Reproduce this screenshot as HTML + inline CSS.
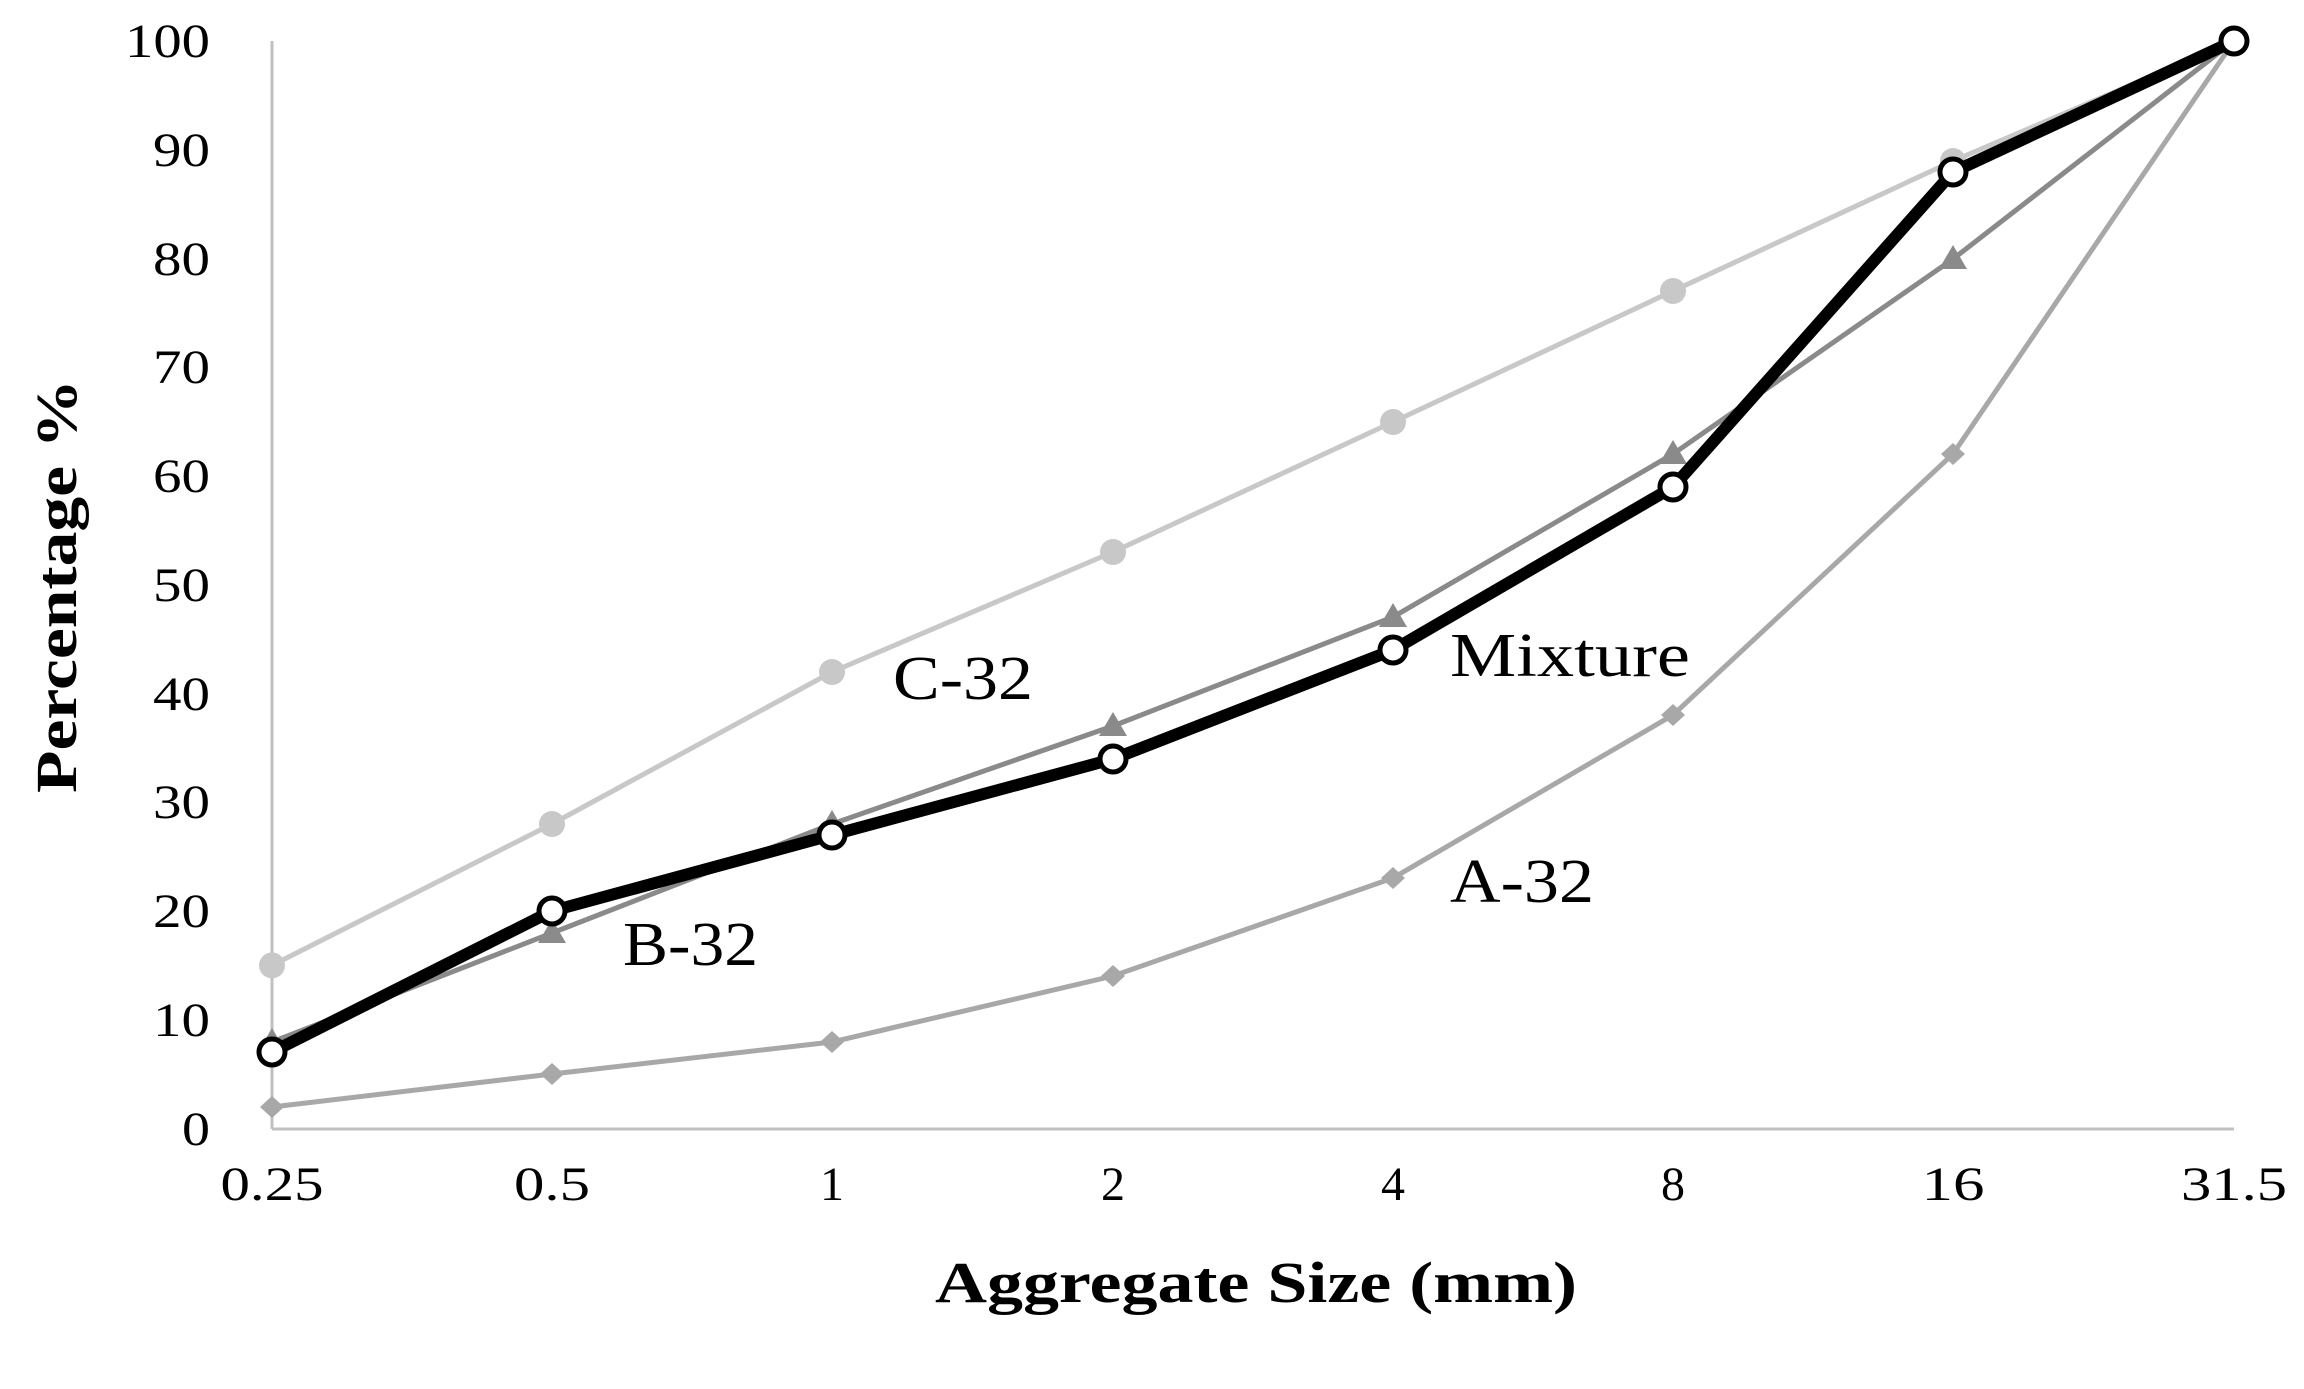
<!DOCTYPE html>
<html><head><style>body{margin:0;background:#fff}svg{display:block}</style></head>
<body>
<svg width="2304" height="1389" viewBox="0 0 2304 1389" xmlns="http://www.w3.org/2000/svg" font-family="Liberation Serif, serif">
<line x1="272" y1="41" x2="272" y2="1129" stroke="#c0c0c0" stroke-width="3"/>
<line x1="272" y1="1129" x2="2234" y2="1129" stroke="#c0c0c0" stroke-width="3"/>
<g font-size="48" text-anchor="end" fill="#000" lengthAdjust="spacingAndGlyphs">
<text x="210" y="57" textLength="85" lengthAdjust="spacingAndGlyphs">100</text>
<text x="210" y="166" textLength="57" lengthAdjust="spacingAndGlyphs">90</text>
<text x="210" y="275" textLength="57" lengthAdjust="spacingAndGlyphs">80</text>
<text x="210" y="383" textLength="57" lengthAdjust="spacingAndGlyphs">70</text>
<text x="210" y="492" textLength="57" lengthAdjust="spacingAndGlyphs">60</text>
<text x="210" y="601" textLength="57" lengthAdjust="spacingAndGlyphs">50</text>
<text x="210" y="710" textLength="57" lengthAdjust="spacingAndGlyphs">40</text>
<text x="210" y="818" textLength="57" lengthAdjust="spacingAndGlyphs">30</text>
<text x="210" y="927" textLength="57" lengthAdjust="spacingAndGlyphs">20</text>
<text x="210" y="1036" textLength="57" lengthAdjust="spacingAndGlyphs">10</text>
<text x="210" y="1145" textLength="28" lengthAdjust="spacingAndGlyphs">0</text>
</g>
<g font-size="48" text-anchor="middle">
<text x="272" y="1200" textLength="103" lengthAdjust="spacingAndGlyphs">0.25</text>
<text x="552" y="1200" textLength="76" lengthAdjust="spacingAndGlyphs">0.5</text>
<text x="832" y="1200">1</text><text x="1113" y="1200">2</text><text x="1393" y="1200">4</text><text x="1673" y="1200">8</text>
<text x="1953" y="1200" textLength="63" lengthAdjust="spacingAndGlyphs">16</text>
<text x="2234" y="1200" textLength="106" lengthAdjust="spacingAndGlyphs">31.5</text>
</g>
<text x="1256" y="1302" font-size="58" font-weight="bold" text-anchor="middle" textLength="642" lengthAdjust="spacingAndGlyphs">Aggregate Size (mm)</text>
<text transform="translate(76,586) rotate(-90)" font-size="58" font-weight="bold" text-anchor="middle" textLength="414" lengthAdjust="spacingAndGlyphs">Percentage %</text>
<!-- C-32 -->
<polyline fill="none" stroke="#c8c8c8" stroke-width="5" points="272,965.4 552,824 832,672 1113,552 1393,422 1673,291 1953,161 2234,41"/>
<g fill="#c8c8c8"><circle cx="272" cy="965.4" r="13"/><circle cx="552" cy="824" r="13"/><circle cx="832" cy="672" r="13"/><circle cx="1113" cy="552" r="13"/><circle cx="1393" cy="422" r="13"/><circle cx="1673" cy="291" r="13"/><circle cx="1953" cy="161" r="13"/></g>
<!-- B-32 -->
<polyline fill="none" stroke="#8a8a8a" stroke-width="5" points="272,1042 552,933 832,824 1113,726 1393,617 1673,454 1953,259 2234,41"/>
<g fill="#8a8a8a"><path d="M272,1028 l14,24 h-28z"/><path d="M552,919 l14,24 h-28z"/><path d="M832,810 l14,24 h-28z"/><path d="M1113,712 l14,24 h-28z"/><path d="M1393,603 l14,24 h-28z"/><path d="M1673,440 l14,24 h-28z"/><path d="M1953,245 l14,24 h-28z"/></g>
<!-- A-32 -->
<polyline fill="none" stroke="#a8a8a8" stroke-width="5" points="272,1107 552,1074 832,1042 1113,976 1393,878 1673,715 1953,454 2234,41"/>
<g fill="#a8a8a8"><path d="M272,1096 l12,11 l-12,11 l-12,-11z"/><path d="M552,1063 l12,11 l-12,11 l-12,-11z"/><path d="M832,1031 l12,11 l-12,11 l-12,-11z"/><path d="M1113,965 l12,11 l-12,11 l-12,-11z"/><path d="M1393,867 l12,11 l-12,11 l-12,-11z"/><path d="M1673,704 l12,11 l-12,11 l-12,-11z"/><path d="M1953,443 l12,11 l-12,11 l-12,-11z"/></g>
<!-- Mixture -->
<polyline fill="none" stroke="#000" stroke-width="12" stroke-linejoin="round" points="272,1052 552,911 832,835 1113,759 1393,650 1673,487 1953,172 2234,41"/>
<g fill="#fff" stroke="#000" stroke-width="5"><circle cx="272" cy="1052" r="13"/><circle cx="552" cy="911" r="13"/><circle cx="832" cy="835" r="13"/><circle cx="1113" cy="759" r="13"/><circle cx="1393" cy="650" r="13"/><circle cx="1673" cy="487" r="13"/><circle cx="1953" cy="172" r="13"/><circle cx="2234" cy="41" r="13"/></g>
<g font-size="62">
<text x="893" y="699" textLength="140" lengthAdjust="spacingAndGlyphs">C-32</text>
<text x="1450" y="676" textLength="240" lengthAdjust="spacingAndGlyphs">Mixture</text>
<text x="1450" y="902" textLength="144" lengthAdjust="spacingAndGlyphs">A-32</text>
<text x="623" y="965" textLength="135" lengthAdjust="spacingAndGlyphs">B-32</text>
</g>
</svg>
</body></html>
